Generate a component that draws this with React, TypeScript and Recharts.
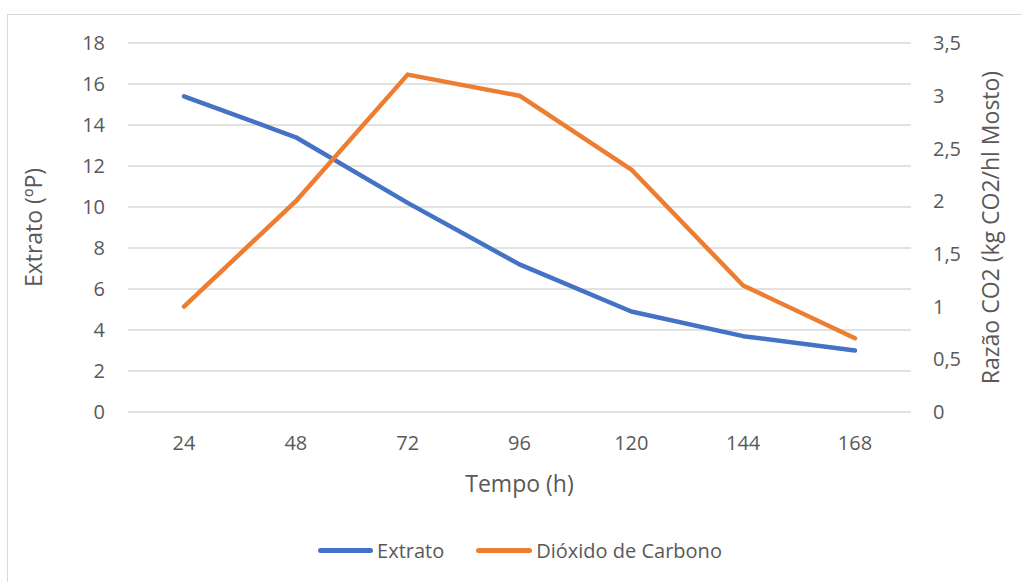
import { LineChart, Line, XAxis, YAxis, CartesianGrid, Legend, Label } from 'recharts';

const tempo = ['24', '48', '72', '96', '120', '144', '168'];
const extrato = [15.4, 13.4, 10.2, 7.2, 4.9, 3.7, 3.0];
const dioxido = [1.0, 2.0, 3.2, 3.0, 2.3, 1.2, 0.7];
const leftTicks = [0, 2, 4, 6, 8, 10, 12, 14, 16, 18];
const rightTicks = [0, 0.5, 1, 1.5, 2, 2.5, 3, 3.5];

const data = tempo.map((t, i) => ({ tempo: t, extrato: extrato[i], co2: dioxido[i] }));

const FONT = '"Open Sans", sans-serif';
const TXT = '#595959';

const LegendBox = () => (
  <div style={{ display: 'flex', justifyContent: 'center', alignItems: 'center', fontFamily: FONT, fontSize: 20, color: TXT, paddingLeft: 10 }}>
    <span style={{ display: 'inline-block', width: 55, height: 5, borderRadius: 3, background: '#4472C4' }}></span>
    <span style={{ marginLeft: 4 }}>Extrato</span>
    <span style={{ display: 'inline-block', width: 56, height: 5, borderRadius: 3, background: '#ED7D31', marginLeft: 32 }}></span>
    <span style={{ marginLeft: 4 }}>Dióxido de Carbono</span>
  </div>
);

export default function App() {
  return (
    <div style={{ position: 'absolute', left: 7, top: 14, width: 1040, height: 600, border: '1px solid #d9d9d9', background: '#fff' }}>
      <LineChart width={1014} height={580} data={data} margin={{ top: 28, right: 0, left: 0, bottom: 0 }}>
        <CartesianGrid yAxisId="left" vertical={false} stroke="#d9d9d9" strokeWidth={1.5} />
        <XAxis
          dataKey="tempo"
          height={183}
          axisLine={false}
          tickLine={false}
          tickSize={0}
          tickMargin={24}
          padding={{ left: 56, right: 56 }}
          tick={{ fill: TXT, fontSize: 20, fontFamily: FONT }}
        >
          <Label
            content={({ viewBox }: any) => (
              <text x={viewBox.x + viewBox.width / 2} y={viewBox.y + 71} textAnchor="middle" dominantBaseline="central" fill={TXT} fontSize={23} fontFamily={FONT}>
                Tempo (h)
              </text>
            )}
          />
        </XAxis>
        <YAxis
          yAxisId="left"
          width={120}
          domain={[0, 18]}
          ticks={leftTicks}
          axisLine={false}
          tickLine={false}
          tickSize={0}
          tickMargin={23}
          tick={{ fill: TXT, fontSize: 20, fontFamily: FONT }}
        >
          <Label
            content={({ viewBox }: any) => (
              <text x={25} y={viewBox.y + viewBox.height / 2} transform={`rotate(-90 25 ${viewBox.y + viewBox.height / 2})`} textAnchor="middle" dominantBaseline="central" fill={TXT} fontSize={23} fontFamily={FONT}>
                Extrato (ºP)
              </text>
            )}
          />
        </YAxis>
        <YAxis
          yAxisId="right"
          orientation="right"
          width={111}
          domain={[0, 3.5]}
          ticks={rightTicks}
          axisLine={false}
          tickLine={false}
          tickSize={0}
          tickMargin={22}
          tickFormatter={(v: number) => String(v).replace('.', ',')}
          tick={{ fill: TXT, fontSize: 20, fontFamily: FONT, textAnchor: 'start' }}
        >
          <Label
            content={({ viewBox }: any) => (
              <text x={982} y={viewBox.y + viewBox.height / 2} transform={`rotate(-90 982 ${viewBox.y + viewBox.height / 2})`} textAnchor="middle" dominantBaseline="central" fill={TXT} fontSize={23} fontFamily={FONT}>
                Razão CO2 (kg CO2/hl Mosto)
              </text>
            )}
          />
        </YAxis>
        <Legend
          layout="horizontal"
          verticalAlign="middle"
          align="center"
          content={() => <LegendBox />}
          wrapperStyle={{ top: 522, left: 0, width: 1014 }}
        />
        <Line yAxisId="left" type="linear" dataKey="extrato" name="Extrato" stroke="#4472C4" strokeWidth={4.5} strokeLinecap="round" strokeLinejoin="round" dot={false} isAnimationActive={false} />
        <Line yAxisId="right" type="linear" dataKey="co2" name="Dióxido de Carbono" stroke="#ED7D31" strokeWidth={4.5} strokeLinecap="round" strokeLinejoin="round" dot={false} isAnimationActive={false} />
      </LineChart>
    </div>
  );
}
